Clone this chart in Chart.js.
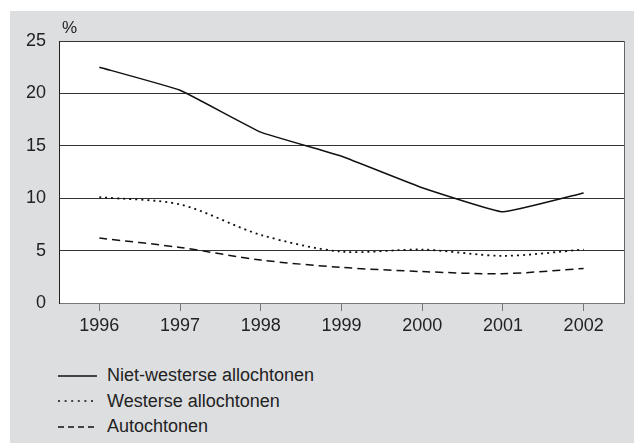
<!DOCTYPE html>
<html>
<head>
<meta charset="utf-8">
<script src="https://cdn.jsdelivr.net/npm/chart.js@4/dist/chart.umd.min.js"></script>
<style>
  body { margin: 0; background: #fff; font-family: "Liberation Sans", Arial, sans-serif; }
  #panel { position: absolute; left: 10px; top: 11px; width: 624px; height: 432px; background: #dddee0; }
  #chart { position: absolute; left: 0; top: 0; }
  #legend { position: absolute; left: 48px; top: 352px; color: #222; font-size: 18px; }
  .row { height: 25.5px; display: flex; align-items: center; }
  .row svg { margin-right: 10px; }
</style>
</head>
<body>
<div id="panel">
  <canvas id="chart" width="624" height="334"></canvas>
  <div id="legend"></div>
</div>
<script>
// Data
var years = ['1996', '1997', '1998', '1999', '2000', '2001', '2002'];
var nietWesters = [22.5, 20.3, 16.3, 14.0, 11.0, 8.7, 10.5];
var westers = [10.1, 9.4, 6.5, 4.9, 5.1, 4.5, 5.1];
var autochtonen = [6.2, 5.3, 4.1, 3.4, 3.0, 2.8, 3.3];
var yTicks = [0, 5, 10, 15, 20, 25];

var seriesNames = ['Niet-westerse allochtonen', 'Westerse allochtonen', 'Autochtonen'];
var dashes = [[], [2, 4], [8, 5]];
var legendDashes = [[], [2, 4.6], [6, 4]];

// white plot area, right border and the % label
var plotFrame = {
    id: 'plotFrame',
    beforeDraw: function (chart) {
        var a = chart.chartArea, ctx = chart.ctx;
        ctx.save();
        ctx.fillStyle = '#fff';
        ctx.fillRect(a.left, a.top, a.right - a.left, a.bottom - a.top);
        ctx.restore();
    },
    afterDraw: function (chart) {
        var a = chart.chartArea, ctx = chart.ctx;
        ctx.save();
        ctx.strokeStyle = '#666';
        ctx.lineWidth = 1;
        ctx.beginPath();
        ctx.moveTo(a.right + 0.5, a.top);
        ctx.lineTo(a.right + 0.5, a.bottom);
        ctx.stroke();
        ctx.fillStyle = '#222';
        ctx.font = '17px "Liberation Sans", Arial, sans-serif';
        ctx.fillText('%', a.left + 3, a.top - 8);
        ctx.restore();
    }
};

var chartCanvas = document.getElementById('chart').getContext('2d');

new Chart(chartCanvas, {
    type: 'line',
    data: {
        labels: years,
        datasets: [
            { label: seriesNames[0], data: nietWesters, borderColor: '#111', borderWidth: 1.5, borderDash: dashes[0], tension: 0.1 },
            { label: seriesNames[1], data: westers, borderColor: '#111', borderWidth: 1.8, borderDash: dashes[1], tension: 0.3 },
            { label: seriesNames[2], data: autochtonen, borderColor: '#111', borderWidth: 1.5, borderDash: dashes[2], tension: 0.3 }
        ]
    },
    options: {
        responsive: false,
        animation: false,
        layout: { padding: { top: 30, right: 10, left: 0, bottom: 0 } },
        elements: { point: { radius: 0 } },
        plugins: { legend: { display: false }, tooltip: { enabled: false } },
        scales: {
            x: {
                offset: true,
                afterFit: function (s) { s.height = 42; },
                grid: { drawOnChartArea: false, tickLength: 8, color: '#777', offset: false },
                border: { color: '#777', width: 1 },
                ticks: { color: '#222', padding: 4, font: { size: 18, family: '"Liberation Sans", Arial, sans-serif' } }
            },
            y: {
                min: 0,
                max: 25,
                afterFit: function (s) { s.width = 49; },
                afterBuildTicks: function (s) { s.ticks = yTicks.map(function (v) { return { value: v }; }); },
                grid: { drawTicks: false, color: '#333', lineWidth: 1 },
                border: { color: '#222', width: 1 },
                ticks: { color: '#222', padding: 13, font: { size: 18, family: '"Liberation Sans", Arial, sans-serif' } }
            }
        }
    },
    plugins: [plotFrame]
});

// Legend below the plot, as html rows
var legend = document.getElementById('legend');
seriesNames.forEach(function (name, i) {
    var row = document.createElement('div');
    row.className = 'row';
    var dash = legendDashes[i].length ? ' stroke-dasharray="' + legendDashes[i].join(' ') + '"' : '';
    row.innerHTML = '<svg width="39" height="6"><line x1="0" y1="3" x2="39" y2="3" stroke="#111" stroke-width="1.4"' + dash + '/></svg><span>' + name + '</span>';
    legend.appendChild(row);
});
</script>
</body>
</html>
